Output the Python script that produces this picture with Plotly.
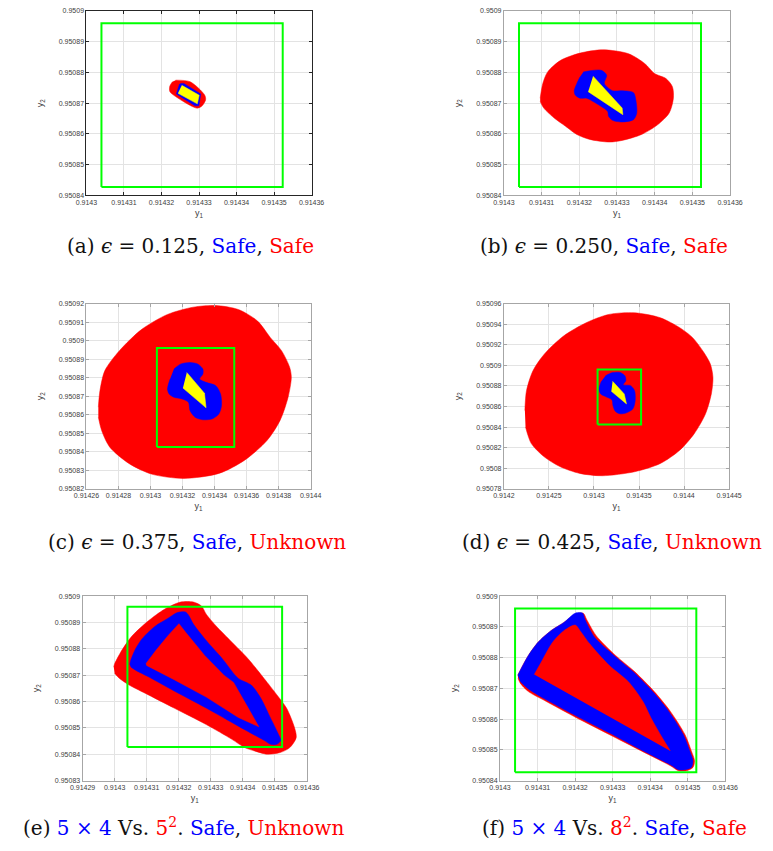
import plotly.graph_objects as go

W, H = 773, 851

# ---------------- data ----------------
# safe output set (green box): y1 range, y2 range
SAFE_Y1 = [0.914304, 0.9143523]
SAFE_Y2 = [0.9508427, 0.950896]

# tick labels
TICK_X_ABF = ["0.9143", "0.91431", "0.91432", "0.91433", "0.91434", "0.91435", "0.91436"]
TICK_Y_ABF = ["0.95084", "0.95085", "0.95086", "0.95087", "0.95088", "0.95089", "0.9509"]
TICK_X_C = ["0.91426", "0.91428", "0.9143", "0.91432", "0.91434", "0.91436", "0.91438", "0.9144"]
TICK_Y_C = ["0.95082", "0.95083", "0.95084", "0.95085", "0.95086", "0.95087", "0.95088",
            "0.95089", "0.9509", "0.95091", "0.95092"]
TICK_X_D = ["0.9142", "0.91425", "0.9143", "0.91435", "0.9144", "0.91445"]
TICK_Y_D = ["0.95078", "0.9508", "0.95082", "0.95084", "0.95086", "0.95088", "0.9509",
            "0.95092", "0.95094", "0.95096"]
TICK_X_E = ["0.91429", "0.9143", "0.91431", "0.91432", "0.91433", "0.91434", "0.91435", "0.91436"]
TICK_Y_E = ["0.95083", "0.95084", "0.95085", "0.95086", "0.95087", "0.95088", "0.95089", "0.9509"]

# (a) eps = 0.125
A_RED_Y1 = [0.91432377, 0.91432763, 0.91433150, 0.91433175, 0.91433065, 0.91432936, 0.91432377,
            0.91432222, 0.91432222, 0.91432292]
A_RED_Y2 = [0.95087749, 0.95087697, 0.95087267, 0.95087106, 0.95086894, 0.95086839, 0.95087215,
            0.95087376, 0.95087556, 0.95087697]
A_BLUE_Y1 = [0.91432506, 0.91432593, 0.91433047, 0.91432995, 0.91432892, 0.91432395, 0.91432480]
A_BLUE_Y2 = [0.95087643, 0.95087643, 0.95087299, 0.95086913, 0.95086913, 0.95087299, 0.95087620]
A_YEL_Y1 = [0.91432542, 0.91433005, 0.91432954, 0.91432439]
A_YEL_Y2 = [0.95087579, 0.95087257, 0.95086978, 0.95087321]

# (b) eps = 0.250
B_RED_Y1 = [0.91430963, 0.91431032, 0.91431161, 0.91431505, 0.91432021, 0.91432623, 0.91433310,
            0.91433740, 0.91433998, 0.91434299, 0.91434471, 0.91434497, 0.91434385, 0.91434084,
            0.91433654, 0.91433138, 0.91432795, 0.91432279, 0.91431935, 0.91431634, 0.91431333,
            0.91431058, 0.91430963]
B_RED_Y2 = [0.95087161, 0.95087643, 0.95088018, 0.95088393, 0.95088629, 0.95088736, 0.95088607,
            0.95088286, 0.95087964, 0.95087803, 0.95087536, 0.95087161, 0.95086678, 0.95086303,
            0.95085982, 0.95085789, 0.95085736, 0.95085821, 0.95085982, 0.95086250, 0.95086518,
            0.95086839, 0.95087053]
B_BLUE_Y1 = [0.91432107, 0.91432580, 0.91432726, 0.91432666, 0.91432880, 0.91433138, 0.91433439,
             0.91433500, 0.91433525, 0.91433439, 0.91433138, 0.91432880, 0.91432777, 0.91432752,
             0.91432365, 0.91432193, 0.91432021, 0.91431892, 0.91431866, 0.91431935, 0.91432021]
B_BLUE_Y2 = [0.95088018, 0.95088071, 0.95087911, 0.95087643, 0.95087407, 0.95087407, 0.95087343,
             0.95087107, 0.95086678, 0.95086464, 0.95086389, 0.95086443, 0.95086571, 0.95086732,
             0.95087053, 0.95087161, 0.95087161, 0.95087268, 0.95087407, 0.95087643, 0.95087857]
B_YEL_Y1 = [0.91432365, 0.91433138, 0.91433156, 0.91432236]
B_YEL_Y2 = [0.95087879, 0.95086839, 0.95086625, 0.95087375]

# (c) eps = 0.375
C_RED_Y1 = [0.91426743, 0.91426844, 0.91427145, 0.91428049, 0.91429454, 0.91431061, 0.91432668,
            0.91434074, 0.91435480, 0.91436685, 0.91437488, 0.91438191, 0.91438693, 0.91438794,
            0.91438593, 0.91438091, 0.91437287, 0.91435881, 0.91434275, 0.91432065, 0.91430057,
            0.91428651, 0.91427446, 0.91426944, 0.91426743]
C_RED_Y2 = [0.95086411, 0.95087304, 0.95088375, 0.95089446, 0.95090607, 0.95091411, 0.95091804,
            0.95091893, 0.95091679, 0.95091054, 0.95090161, 0.95089446, 0.95088554, 0.95088018,
            0.95086946, 0.95085696, 0.95084625, 0.95083554, 0.95082839, 0.95082571, 0.95082804,
            0.95083375, 0.95084268, 0.95085161, 0.95085875]
C_BLUE_Y1 = [0.91431463, 0.91431865, 0.91432467, 0.91432969, 0.91433271, 0.91433271, 0.91433070,
             0.91433471, 0.91434074, 0.91434375, 0.91434435, 0.91434275, 0.91433873, 0.91433271,
             0.91432768, 0.91432467, 0.91432367, 0.91431965, 0.91431463, 0.91431162, 0.91431061,
             0.91431222]
C_BLUE_Y2 = [0.95088464, 0.95088732, 0.95088821, 0.95088732, 0.95088464, 0.95088196, 0.95087929,
             0.95087750, 0.95087571, 0.95087125, 0.95086500, 0.95086054, 0.95085786, 0.95085732,
             0.95085875, 0.95086232, 0.95086679, 0.95086857, 0.95086946, 0.95087125, 0.95087393,
             0.95087929]
C_YEL_Y1 = [0.91432266, 0.91433371, 0.91433471, 0.91432025]
C_YEL_Y2 = [0.95088286, 0.95087161, 0.95086375, 0.95087446]

# (d) eps = 0.425
D_RED_Y1 = [0.91422328, 0.91422507, 0.91423223, 0.91424477, 0.91426626, 0.91429133, 0.91431640,
            0.91434506, 0.91437371, 0.91439520, 0.91440953, 0.91442206, 0.91442923, 0.91443209,
            0.91443030, 0.91442385, 0.91441132, 0.91439520, 0.91437371, 0.91434506, 0.91430924,
            0.91428417, 0.91426268, 0.91424477, 0.91423044, 0.91422400]
D_RED_Y2 = [0.95085617, 0.95087546, 0.95089475, 0.95091082, 0.95092850, 0.95094136, 0.95094939,
            0.95095100, 0.95094618, 0.95093653, 0.95092689, 0.95091243, 0.95090118, 0.95088832,
            0.95087225, 0.95085296, 0.95083367, 0.95081760, 0.95080474, 0.95079671, 0.95079285,
            0.95079510, 0.95080153, 0.95081117, 0.95082403, 0.95084010]
D_BLUE_Y1 = [0.91431282, 0.91431998, 0.91432894, 0.91433431, 0.91433539, 0.91433252, 0.91434076,
             0.91434506, 0.91434577, 0.91434327, 0.91433610, 0.91432894, 0.91432357, 0.91432106,
             0.91431998, 0.91431282, 0.91430745, 0.91430566, 0.91430817]
D_BLUE_Y2 = [0.95088993, 0.95089282, 0.95089314, 0.95088993, 0.95088510, 0.95088125, 0.95088028,
             0.95087546, 0.95086582, 0.95085778, 0.95085392, 0.95085296, 0.95085553, 0.95086100,
             0.95086646, 0.95086968, 0.95087225, 0.95087707, 0.95088446]
D_YEL_Y1 = [0.91432070, 0.91433360, 0.91433610, 0.91431927]
D_YEL_Y2 = [0.95088446, 0.95087225, 0.95086260, 0.95087482]

# (e) 5x4 vs 5^2
E_RED_Y1 = [0.91429973, 0.91430003, 0.91430254, 0.91430555, 0.91431056, 0.91431557, 0.91432059,
            0.91432460, 0.91432711, 0.91432861, 0.91433162, 0.91433664, 0.91434165, 0.91434666,
            0.91435068, 0.91435368, 0.91435619, 0.91435669, 0.91435469, 0.91435168, 0.91434767,
            0.91434366, 0.91434065, 0.91433664, 0.91432861, 0.91431858, 0.91431056, 0.91430454,
            0.91430153, 0.91430003]
E_RED_Y2 = [0.95087313, 0.95087438, 0.95088000, 0.95088500, 0.95089063, 0.95089500, 0.95089775,
            0.95089775, 0.95089625, 0.95089313, 0.95088875, 0.95088250, 0.95087625, 0.95086875,
            0.95086250, 0.95085750, 0.95085000, 0.95084625, 0.95084250, 0.95084063, 0.95084000,
            0.95084125, 0.95084250, 0.95084563, 0.95085125, 0.95085750, 0.95086250, 0.95086625,
            0.95086875, 0.95087063]
E_BLUE_Y1 = [0.91430474, 0.91430504, 0.91430655, 0.91430855, 0.91431257, 0.91431658, 0.91431959,
             0.91432209, 0.91432310, 0.91432460, 0.91432861, 0.91433363, 0.91433864, 0.91434265,
             0.91434566, 0.91434867, 0.91435118, 0.91435188, 0.91435068, 0.91434867, 0.91434666,
             0.91433864, 0.91432861, 0.91431858, 0.91431056, 0.91430655, 0.91430504]
E_BLUE_Y2 = [0.95087400, 0.95087563, 0.95088000, 0.95088375, 0.95088850, 0.95089150, 0.95089375,
             0.95089400, 0.95089275, 0.95088938, 0.95088313, 0.95087625, 0.95086875, 0.95086625,
             0.95086125, 0.95085375, 0.95084750, 0.95084525, 0.95084375, 0.95084375, 0.95084525,
             0.95085063, 0.95085750, 0.95086400, 0.95086938, 0.95087188, 0.95087313]
E_IN_Y1 = [0.91430976, 0.91431297, 0.91431678, 0.91432009, 0.91432219, 0.91432811, 0.91433413,
           0.91433714, 0.91434115, 0.91434506, 0.91433864, 0.91432861, 0.91431858, 0.91430996]
E_IN_Y2 = [0.95087435, 0.95087950, 0.95088513, 0.95088955, 0.95088625, 0.95087750, 0.95087000,
           0.95086725, 0.95085875, 0.95085038, 0.95085393, 0.95086168, 0.95086830, 0.95087370]

# (f) 5x4 vs 8^2
F_RED_Y1 = [0.91430473, 0.91430585, 0.91430756, 0.91431014, 0.91431358, 0.91431702, 0.91432003,
            0.91432218, 0.91432304, 0.91432562, 0.91433077, 0.91433593, 0.91434109, 0.91434539,
            0.91434926, 0.91435098, 0.91435183, 0.91435141, 0.91434969, 0.91434754, 0.91434539,
            0.91433765, 0.91432906, 0.91432046, 0.91431186, 0.91430756, 0.91430542, 0.91430481]
F_RED_Y2 = [0.95087428, 0.95087696, 0.95088071, 0.95088500, 0.95088875, 0.95089143, 0.95089411,
            0.95089443, 0.95089250, 0.95088714, 0.95088071, 0.95087536, 0.95086893, 0.95086250,
            0.95085500, 0.95084964, 0.95084643, 0.95084428, 0.95084321, 0.95084321, 0.95084482,
            0.95084964, 0.95085500, 0.95086036, 0.95086603, 0.95086893, 0.95087161, 0.95087321]
F_BLUE_Y1 = [0.91430473, 0.91430585, 0.91430756, 0.91431014, 0.91431358, 0.91431702, 0.91432003,
             0.91432201, 0.91432261, 0.91432519, 0.91433034, 0.91433550, 0.91434066, 0.91434496,
             0.91434883, 0.91435055, 0.91435141, 0.91435098, 0.91434926, 0.91434754, 0.91434539,
             0.91433765, 0.91432906, 0.91432046, 0.91431186, 0.91430756, 0.91430542]
F_BLUE_Y2 = [0.95087428, 0.95087696, 0.95088071, 0.95088500, 0.95088875, 0.95089143, 0.95089443,
             0.95089443, 0.95089250, 0.95088661, 0.95088071, 0.95087536, 0.95086893, 0.95086250,
             0.95085500, 0.95084964, 0.95084643, 0.95084428, 0.95084353, 0.95084353, 0.95084514,
             0.95084996, 0.95085553, 0.95086089, 0.95086657, 0.95086978, 0.95087214]
F_IN_Y1 = [0.91430911, 0.91431100, 0.91431401, 0.91431702, 0.91432003, 0.91432132, 0.91432390,
           0.91432906, 0.91433421, 0.91433808, 0.91434023, 0.91434324, 0.91434539]
F_IN_Y2 = [0.95087450, 0.95087857, 0.95088500, 0.95088875, 0.95089057, 0.95088875, 0.95088446,
           0.95087750, 0.95087214, 0.95086571, 0.95086036, 0.95085393, 0.95084964]

CAP_FS = 20
BLUE_T = "<span style='color:#0000ff;font-size:%dpx'>%%s</span>" % CAP_FS
RED_T = "<span style='color:#ff0000;font-size:%dpx'>%%s</span>" % CAP_FS
EPS = "<span style='font-style:italic;font-size:%dpx'>ϵ</span>" % CAP_FS
CAPTIONS = [
    "(a) " + EPS + " = 0.125, " + BLUE_T % "Safe" + ", " + RED_T % "Safe",
    "(b) " + EPS + " = 0.250, " + BLUE_T % "Safe" + ", " + RED_T % "Safe",
    "(c) " + EPS + " = 0.375, " + BLUE_T % "Safe" + ", " + RED_T % "Unknown",
    "(d) " + EPS + " = 0.425, " + BLUE_T % "Safe" + ", " + RED_T % "Unknown",
    "(e) " + BLUE_T % "5 × 4" + " Vs. " + RED_T % "5<sup>2</sup>" + ". " + BLUE_T % "Safe" + ", " + RED_T % "Unknown",
    "(f) " + BLUE_T % "5 × 4" + " Vs. " + RED_T % "8<sup>2</sup>" + ". " + BLUE_T % "Safe" + ", " + RED_T % "Safe",
]

# ---------------- styling / layout ----------------
RED, BLUE, YEL, GREEN = "#ff0000", "#0000ff", "#ffff00", "#00ff00"

# plot-area boxes in pixels: (left, right, top, bottom)
BOXES = [(76, 309, 7, 193), (508, 742, 7, 193),
         (76, 308, 302, 489), (508, 741, 302, 489),
         (72, 304, 597, 783), (504, 737, 597, 783)]
CAP_POS = [(184, 244), (612, 244), (190, 542), (620, 542), (176, 830), (622, 830)]

panels = [
    dict(tx=TICK_X_ABF, ty=TICK_Y_ABF, frame="#262626",
         layers=[(A_RED_Y1, A_RED_Y2, RED, "spline"), (A_BLUE_Y1, A_BLUE_Y2, BLUE, "linear"),
                 (A_YEL_Y1, A_YEL_Y2, YEL, "linear")]),
    dict(tx=TICK_X_ABF, ty=TICK_Y_ABF, frame="#a6a6a6",
         layers=[(B_RED_Y1, B_RED_Y2, RED, "spline"), (B_BLUE_Y1, B_BLUE_Y2, BLUE, "spline"),
                 (B_YEL_Y1, B_YEL_Y2, YEL, "linear")]),
    dict(tx=TICK_X_C, ty=TICK_Y_C, frame="#a6a6a6",
         layers=[(C_RED_Y1, C_RED_Y2, RED, "spline"), (C_BLUE_Y1, C_BLUE_Y2, BLUE, "spline"),
                 (C_YEL_Y1, C_YEL_Y2, YEL, "linear")]),
    dict(tx=TICK_X_D, ty=TICK_Y_D, frame="#a6a6a6",
         layers=[(D_RED_Y1, D_RED_Y2, RED, "spline"), (D_BLUE_Y1, D_BLUE_Y2, BLUE, "spline"),
                 (D_YEL_Y1, D_YEL_Y2, YEL, "linear")]),
    dict(tx=TICK_X_E, ty=TICK_Y_E, frame="#a6a6a6",
         layers=[(E_RED_Y1, E_RED_Y2, RED, "spline"), (E_BLUE_Y1, E_BLUE_Y2, BLUE, "spline"),
                 (E_IN_Y1, E_IN_Y2, RED, "linear")]),
    dict(tx=TICK_X_ABF, ty=TICK_Y_ABF, frame="#a6a6a6",
         layers=[(F_RED_Y1, F_RED_Y2, RED, "spline"), (F_BLUE_Y1, F_BLUE_Y2, BLUE, "spline"),
                 (F_IN_Y1, F_IN_Y2, RED, "spline")]),
]

fig = go.Figure()
layout = dict(width=W, height=H, margin=dict(l=0, r=0, t=0, b=0),
              paper_bgcolor="white", plot_bgcolor="white", showlegend=False,
              font=dict(family="Liberation Sans, Arial, sans-serif", color="#333333"))

box_x = [SAFE_Y1[0], SAFE_Y1[1], SAFE_Y1[1], SAFE_Y1[0], SAFE_Y1[0]]
box_y = [SAFE_Y2[0], SAFE_Y2[0], SAFE_Y2[1], SAFE_Y2[1], SAFE_Y2[0]]

annotations = []
for i, (p, box, cap, cpos) in enumerate(zip(panels, BOXES, CAPTIONS, CAP_POS), start=1):
    xa = "x" if i == 1 else "x%d" % i
    ya = "y" if i == 1 else "y%d" % i
    for (xs, ys, col, shape) in p["layers"]:
        fig.add_trace(go.Scatter(x=xs, y=ys, mode="lines", fill="toself", fillcolor=col,
                                 line=dict(color=col, width=0.5, shape=shape, smoothing=0.8),
                                 hoverinfo="skip", xaxis=xa, yaxis=ya))
    fig.add_trace(go.Scatter(x=box_x, y=box_y, mode="lines",
                             line=dict(color=GREEN, width=2), hoverinfo="skip",
                             xaxis=xa, yaxis=ya))
    l, r, t, b = box
    xv = [float(v) for v in p["tx"]]
    yv = [float(v) for v in p["ty"]]
    common = dict(showgrid=True, gridcolor="#e3e3e3", gridwidth=1, zeroline=False,
                  showline=True, linecolor=p["frame"], linewidth=1, mirror="ticks",
                  ticks="inside", ticklen=3, tickcolor=p["frame"],
                  tickfont=dict(size=7, color="#404040",
                                family="Liberation Sans, Arial, sans-serif"))
    layout["xaxis" if i == 1 else "xaxis%d" % i] = dict(
        domain=[l / W, r / W], range=[xv[0], xv[-1]], tickvals=xv, ticktext=p["tx"],
        anchor=ya, title=dict(text="y<sub>1</sub>", font=dict(size=9, color="#404040"),
                              standoff=4), **common)
    layout["yaxis" if i == 1 else "yaxis%d" % i] = dict(
        domain=[1 - b / H, 1 - t / H], range=[yv[0], yv[-1]], tickvals=yv, ticktext=p["ty"],
        anchor=xa, title=dict(text="y<sub>2</sub>", font=dict(size=9, color="#404040"),
                              standoff=13), **common)
    annotations.append(dict(text=cap, x=cpos[0] / W, y=1 - cpos[1] / H, xref="paper",
                            yref="paper", xanchor="center", yanchor="middle", showarrow=False,
                            font=dict(family="DejaVu Serif, serif", size=CAP_FS, color="#111111")))

layout["annotations"] = annotations
fig.update_layout(**layout)
fig.write_html("out.html", config={"displayModeBar": False},
               post_script="document.body.style.margin='0px';document.body.style.overflow='hidden';")
